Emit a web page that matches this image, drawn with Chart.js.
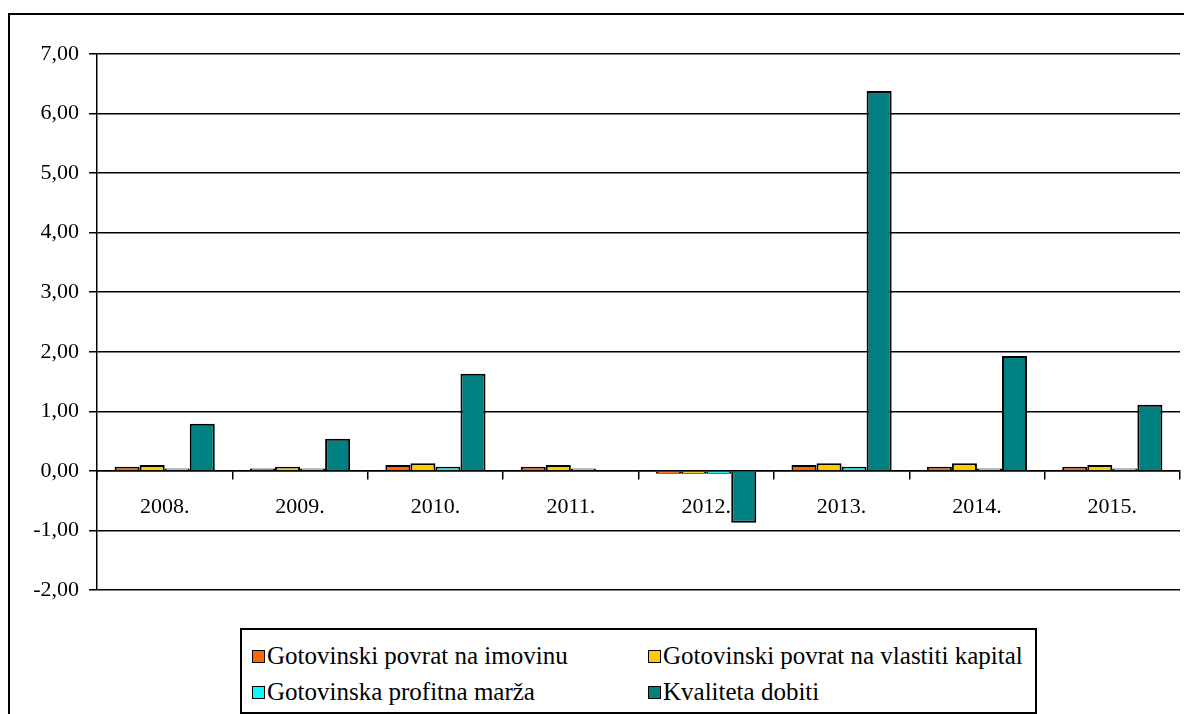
<!DOCTYPE html>
<html>
<head>
<meta charset="utf-8">
<script src="https://cdn.jsdelivr.net/npm/chart.js@4/dist/chart.umd.min.js"></script>
<style>
  html, body { margin: 0; padding: 0; background: #fff; overflow: hidden; }
  #wrap { position: relative; width: 1184px; height: 714px; }
  #frame { position: absolute; left: 8px; top: 13px; width: 1200px; height: 720px; border: 2px solid #000; box-sizing: border-box; }
  #legend { position: absolute; left: 240px; top: 628px; width: 797px; height: 86px; border: 2px solid #000; box-sizing: border-box; background: #fff;
            font-family: "Liberation Serif", "Times New Roman", serif; font-size: 25px; color: #000; }
  .item { position: absolute; white-space: nowrap; line-height: 26px; }
  .sw { display: inline-block; width: 11px; height: 11px; border: 1.5px solid #000; margin-right: 2px; vertical-align: 1px; }
</style>
</head>
<body>
<div id="wrap">
  <div id="frame"></div>
  <canvas id="myChart" width="1184" height="714"></canvas>
  <div id="legend"></div>
</div>
<script>
const years = ['2008.', '2009.', '2010.', '2011.', '2012.', '2013.', '2014.', '2015.'];
const povratImovina = [0.07, 0.04, 0.10, 0.07, -0.05, 0.10, 0.07, 0.07];
const povratKapital = [0.10, 0.07, 0.13, 0.10, -0.05, 0.13, 0.13, 0.10];
const profitnaMarza = [0.04, 0.04, 0.07, 0.04, -0.05, 0.07, 0.04, 0.04];
const kvalitetaDobiti = [0.79, 0.54, 1.63, 0.00, -0.87, 6.38, 1.93, 1.11];
const yTickLabels = ['-2,00', '-1,00', '0,00', '1,00', '2,00', '3,00', '4,00', '5,00', '6,00', '7,00'];

const seriesNames = ['Gotovinski povrat na imovinu', 'Gotovinski povrat na vlastiti kapital',
                     'Gotovinska profitna marža', 'Kvaliteta dobiti'];
const seriesColors = ['#FF6600', '#FFCC00', '#00FFFF', '#008080'];

const serif = "'Liberation Serif', 'Times New Roman', serif";

const ctx = document.getElementById('myChart').getContext('2d');
new Chart(ctx, {
    type: 'bar',
    data: {
        labels: years,
        datasets: [povratImovina, povratKapital, profitnaMarza, kvalitetaDobiti].map((d, i) => ({
            label: seriesNames[i],
            data: d,
            backgroundColor: seriesColors[i],
            borderColor: '#000',
            borderWidth: 2,
            categoryPercentage: 0.74,
            barPercentage: 1.0
        }))
    },
    options: {
        responsive: false,
        animation: false,
        layout: { padding: { left: 0, right: 4, top: 54, bottom: 124 } },
        plugins: {
            legend: { display: false },
            tooltip: { enabled: false }
        },
        scales: {
            x: {
                position: { y: 0 },
                grid: { display: true, drawOnChartArea: false, color: '#000', lineWidth: 1.5, tickLength: 8 },
                border: { display: true, color: '#000', width: 1.5 },
                ticks: { color: '#000', font: { family: serif, size: 22 }, padding: 15, maxRotation: 0 }
            },
            y: {
                min: -2,
                max: 7,
                afterFit: (s) => { s.width = 97; },
                grid: { color: '#000', lineWidth: 1.5, tickLength: 8 },
                border: { display: true, color: '#000', width: 1.5 },
                ticks: {
                    stepSize: 1,
                    color: '#000',
                    padding: 10,
                    font: { family: serif, size: 22 },
                    callback: (v) => yTickLabels[Math.round(v) + 2]
                }
            }
        }
    }
});

// legend laid out as in the original: two columns, two rows
const legendPos = [[10, 13], [406, 13], [10, 49], [406, 49]];
const legend = document.getElementById('legend');
seriesNames.forEach((name, i) => {
    const el = document.createElement('div');
    el.className = 'item';
    el.style.left = legendPos[i][0] + 'px';
    el.style.top = legendPos[i][1] + 'px';
    el.innerHTML = '<span class="sw" style="background:' + seriesColors[i] + '"></span>' + name;
    legend.appendChild(el);
});
</script>
</body>
</html>
